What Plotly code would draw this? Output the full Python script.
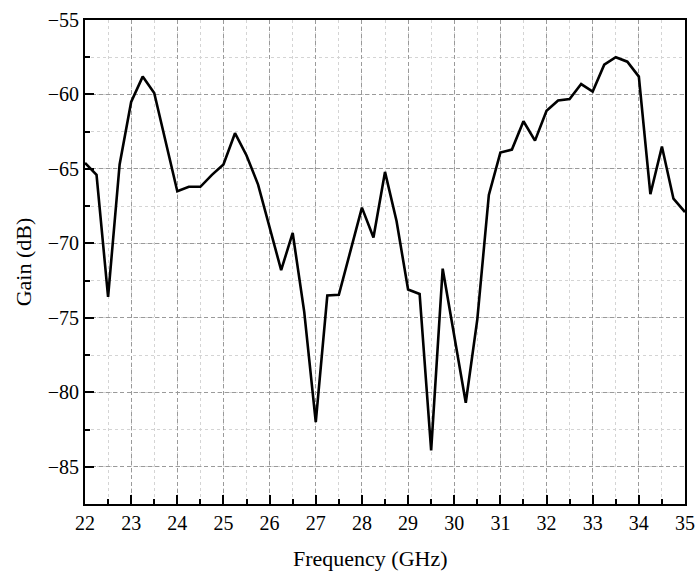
import plotly.graph_objects as go

freq_ghz = [22.0, 22.25, 22.5, 22.75, 23.0, 23.25, 23.5, 23.75, 24.0, 24.25, 24.5, 24.75,
            25.0, 25.25, 25.5, 25.75, 26.0, 26.25, 26.5, 26.75, 27.0, 27.25, 27.5, 27.75,
            28.0, 28.25, 28.5, 28.75, 29.0, 29.25, 29.5, 29.75, 30.0, 30.25, 30.5, 30.75,
            31.0, 31.25, 31.5, 31.75, 32.0, 32.25, 32.5, 32.75, 33.0, 33.25, 33.5, 33.75,
            34.0, 34.25, 34.5, 34.75, 35.0]
gain_db = [-64.6, -65.4, -73.6, -64.7, -60.5, -58.8, -59.9, -63.2, -66.5, -66.2, -66.2, -65.4,
           -64.7, -62.6, -64.1, -66.05, -68.9, -71.8, -69.3, -74.6, -82.0, -73.5, -73.45, -70.45,
           -67.6, -69.6, -65.2, -68.5, -73.1, -73.4, -83.9, -71.7, -76.2, -80.7, -75.1, -66.75,
           -63.9, -63.7, -61.8, -63.1, -61.1, -60.4, -60.3, -59.3, -59.8, -58.0, -57.5, -57.8,
           -58.8, -66.7, -63.5, -67.0, -67.9]

x_ticks = list(range(22, 36))
y_ticks = [-85, -80, -75, -70, -65, -60, -55]

font_family = "Times New Roman"

fig = go.Figure()
fig.add_trace(go.Scatter(x=freq_ghz, y=gain_db, mode="lines",
                         line=dict(color="black", width=2.6), showlegend=False))

axis_common = dict(
    showline=True, linecolor="black", linewidth=2, mirror=True,
    ticks="inside", ticklen=9, tickwidth=2, tickcolor="black",
    showgrid=True, gridcolor="#9a9a9a", gridwidth=1, griddash="4px,3px",
    zeroline=False, automargin=False,
    tickfont=dict(family=font_family, size=20, color="black"),
)

fig.update_xaxes(
    range=[22, 35], tickvals=x_ticks,
    minor=dict(dtick=0.5, tick0=22, ticks="inside", ticklen=5, tickwidth=2, tickcolor="black",
               showgrid=True, gridcolor="#d4d4d4", gridwidth=1, griddash="dot"),
    **axis_common,
)
fig.update_yaxes(
    range=[-87.5, -55], tickvals=y_ticks,
    title=dict(text="Gain (dB)", font=dict(family=font_family, size=22, color="black"), standoff=10),
    minor=dict(dtick=2.5, tick0=-55, ticks="inside", ticklen=5, tickwidth=2, tickcolor="black",
               showgrid=True, gridcolor="#d4d4d4", gridwidth=1, griddash="dot"),
    **axis_common,
)

fig.add_annotation(
    text="Frequency (GHz)", xref="paper", yref="paper", x=0.475, y=-0.112,
    xanchor="center", yanchor="middle", showarrow=False,
    font=dict(family=font_family, size=22, color="black"),
)

fig.update_layout(
    width=696, height=574,
    margin=dict(l=85, r=11, t=20, b=70),
    plot_bgcolor="white", paper_bgcolor="white",
    font=dict(family=font_family, color="black"),
)

fig.write_html("out.html")
